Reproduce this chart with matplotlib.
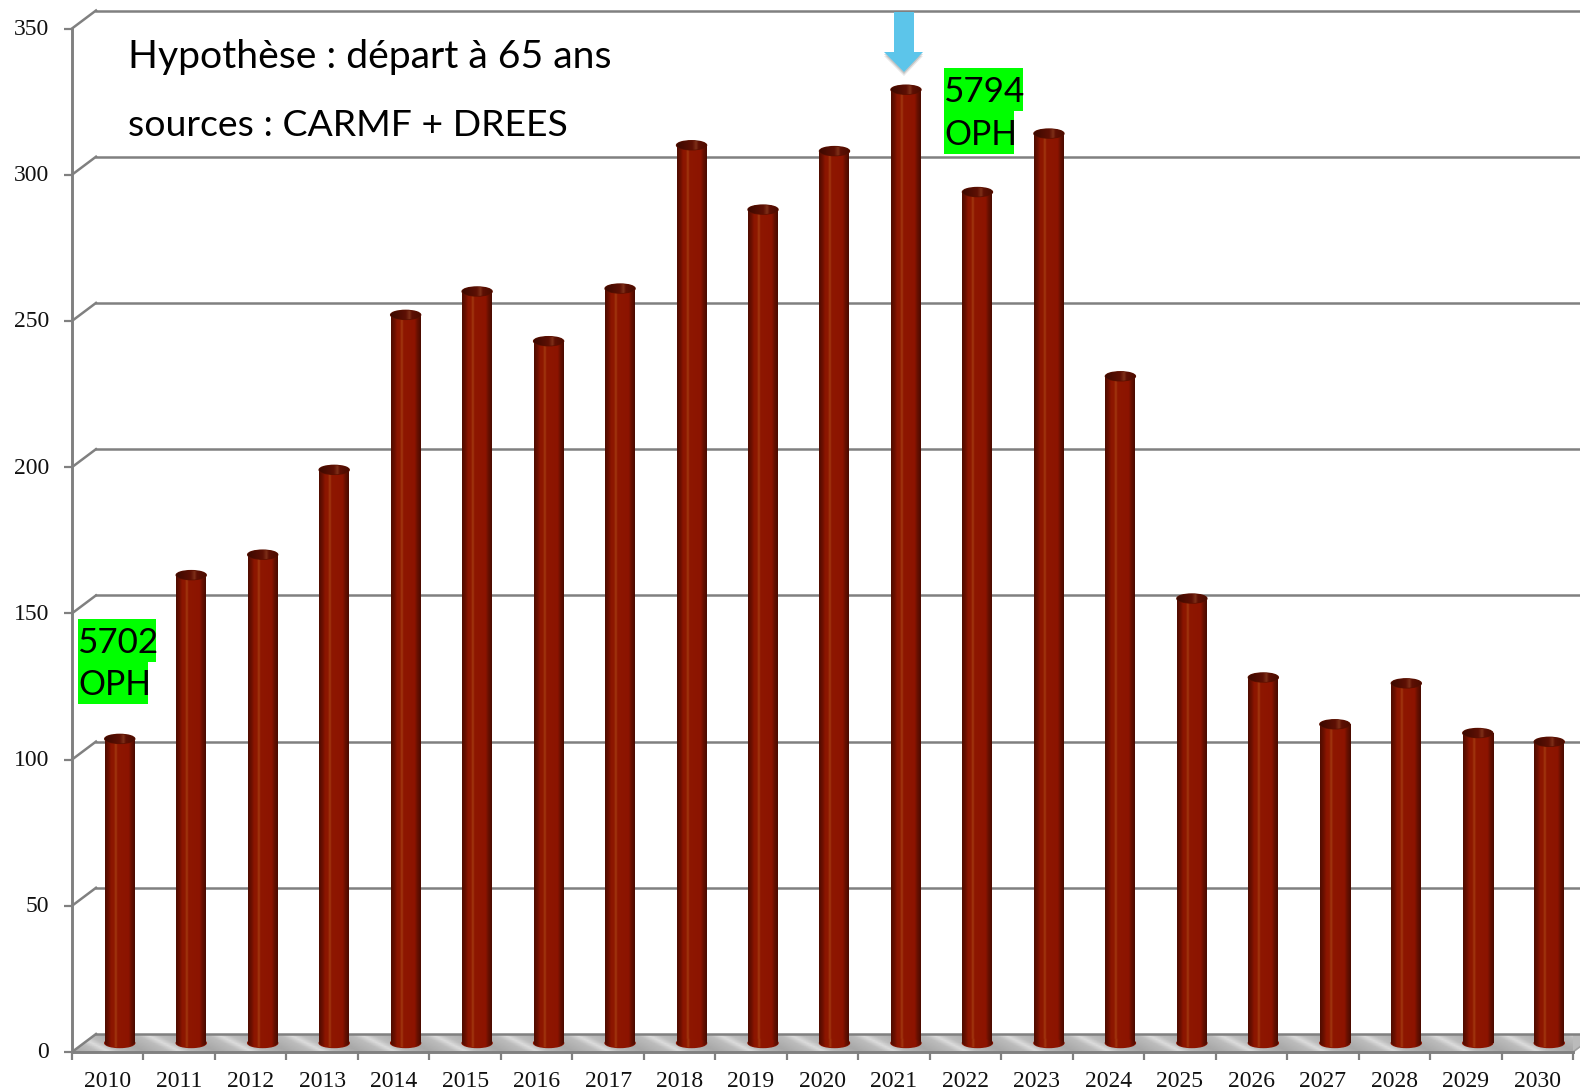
import numpy as np
import matplotlib
matplotlib.use("Agg")
import matplotlib.pyplot as plt
from matplotlib.colors import LinearSegmentedColormap
from matplotlib.patches import Ellipse, Polygon, Rectangle
from matplotlib.transforms import Affine2D

# Values
years = [str(y) for y in range(2010, 2031)]
departures = [104, 160, 167, 196, 249, 257, 240, 258, 307, 285, 305, 326,
              291, 311, 228, 152, 125, 109, 123, 106, 103]
y_ticks = [0, 50, 100, 150, 200, 250, 300, 350]

W, H = 1580, 1091
GREY = "#808080"
GREEN = "#00ff00"

fig = plt.figure(figsize=(W / 100, H / 100), dpi=100)
ax = fig.add_axes([72 / W, (H - 1052) / H, 1501 / W, 1023.5 / H])
ax.set_xlim(0, 21)
ax.set_ylim(0, 350)

# depth of the fake 3d box, in data units
dx = 24 / (1501 / 21)
dy = 18 / (1023.5 / 350)
px_y = 350 / 1023.5

bar_cmap = LinearSegmentedColormap.from_list("bar", [
    (0.0, "#4f0c00"), (0.12, "#6e1000"), (0.2, "#8c1500"), (0.3, "#8e1800"),
    (0.36, "#a33a10"), (0.42, "#8e1700"), (0.8, "#8c1400"), (0.88, "#6a1000"),
    (1.0, "#4a0b00")])
top_cmap = LinearSegmentedColormap.from_list("top", [
    (0.0, "#3c0900"), (0.5, "#5e1004"), (0.62, "#7e3018"), (0.7, "#5e1004"),
    (1.0, "#4a0c00")])
floor_cmap = LinearSegmentedColormap.from_list("floor", [
    (0.0, "#a8a8a8"), (0.35, "#bcbcbc"), (0.5, "#dcdcdc"), (0.65, "#bcbcbc"),
    (1.0, "#a8a8a8")])
grad = np.linspace(0, 1, 64).reshape(1, -1)


def shaded(artist, cmap, extent, z):
    im = ax.imshow(grad, cmap=cmap, extent=extent, aspect="auto", zorder=z,
                   vmin=0, vmax=1, interpolation="bilinear")
    im.set_clip_path(artist)
    return im


# back wall lines
for v in y_ticks[1:]:
    ax.plot([0, dx], [v, v + dy], color=GREY, lw=1.8, clip_on=False, zorder=1)
    ax.plot([dx, 22], [v + dy, v + dy], color=GREY, lw=1.8, clip_on=False, zorder=1)

# floor
floor = Polygon([(0, 0), (21, 0), (21 + dx, dy), (dx, dy)], closed=True,
                facecolor="#bbbbbb", edgecolor="none", clip_on=False, zorder=1.5)
ax.add_patch(floor)
yy, xx = np.mgrid[0:12, 0:1600]
floor_grad = ((xx / 1600 * 22 * 1.0 + yy / 12 * 0.5) % 1.0)
im = ax.imshow(floor_grad, cmap=floor_cmap, extent=(0, 22, 0, dy), aspect="auto",
               zorder=1.6, vmin=0, vmax=1, origin="lower")
im.set_clip_path(floor)
ax.plot([dx, 22], [dy, dy], color=GREY, lw=1.8, clip_on=False, zorder=1.7)
ax.plot([21, 21 + dx], [0, dy], color="#a0a0a0", lw=1.2, clip_on=False, zorder=1.7)
ax.plot([0, dx], [0, dy], color=GREY, lw=1.8, clip_on=False, zorder=1.7)

# bars as cylinders
bar_w = 30 / (1501 / 21)
ell_h = 9 * px_y
base = dy / 2
centres = np.arange(len(years)) + 0.5
for i, (c, v) in enumerate(zip(centres + dx / 2, departures)):
    z = 3 + i * 0.01
    rect = ax.bar(c, v, width=bar_w, bottom=base, color="#8c1400", zorder=z,
                  clip_on=False)[0]
    low = Ellipse((c, base), bar_w, ell_h, color="#8c1400", zorder=z, clip_on=False)
    ax.add_patch(low)
    x0, x1 = c - bar_w / 2, c + bar_w / 2
    shaded(rect, bar_cmap, (x0, x1, base, base + v), z + 0.001)
    shaded(low, bar_cmap, (x0, x1, base - ell_h, base + ell_h), z + 0.001)
    cap = Ellipse((c, base + v), bar_w, ell_h, color="#5a1000", zorder=z + 0.002,
                  clip_on=False)
    ax.add_patch(cap)
    shaded(cap, top_cmap, (x0, x1, base + v - ell_h, base + v + ell_h), z + 0.003)

ax.set_xlim(0, 21)
ax.set_ylim(0, 350)

# axes
for side in ["top", "right"]:
    ax.spines[side].set_visible(False)
for side in ["left", "bottom"]:
    ax.spines[side].set_color(GREY)
    ax.spines[side].set_linewidth(2.1)
    ax.spines[side].set_zorder(2)
ax.set_xticks(np.arange(22))
ax.set_xticklabels([])
ax.set_xticks(centres, years, minor=True)
ax.set_yticks(y_ticks)
ax.tick_params(axis="both", which="major", color=GREY, width=1.6, length=5.5)
ax.tick_params(axis="x", which="minor", length=0, pad=14)
ax.tick_params(axis="y", which="major", pad=11)
for lab in ax.get_xticklabels(minor=True) + ax.get_yticklabels():
    lab.set_family("Liberation Serif")
    lab.set_fontsize(17)
    lab.set_color("#111111")
for lab in ax.get_yticklabels():
    lab.set_transform(lab.get_transform() + Affine2D().translate(0, 1.5))


def px(x, y):
    return x / W, 1 - y / H


def label_text(x, y, s, size):
    fig.text(*px(x, y), s, family="Lato", fontsize=size, color="black",
             va="center", ha="left", zorder=11)


def green_box(x0, y0, x1, y1):
    fig.add_artist(Rectangle(px(x0, y1), (x1 - x0) / W, (y1 - y0) / H, facecolor=GREEN,
                             edgecolor="none", transform=fig.transFigure, zorder=10))


label_text(128, 57, "Hypothèse : départ à 65 ans", 28.2)
label_text(128, 126, "sources : CARMF + DREES", 26.9)

green_box(78, 619, 156, 662)
green_box(78, 662, 148, 704)
label_text(78, 643, "5702", 25.2)
label_text(78, 685, "OPH", 24.2)

green_box(944, 68, 1023, 111)
green_box(944, 111, 1014, 154)
label_text(944, 92, "5794", 25.2)
label_text(944, 135, "OPH", 24.2)


# blue arrow above the 2021 bar
def arrow(off, color, alpha, z):
    pts = [(894, 12), (914, 12), (914, 52), (923, 52), (904, 72), (884, 52), (894, 52)]
    fig.add_artist(Polygon([px(x + off[0], y + off[1]) for x, y in pts], closed=True,
                           facecolor=color, edgecolor="none", alpha=alpha,
                           transform=fig.transFigure, zorder=z))


arrow((0, 4), "#888888", 0.2, 8)
arrow((0, 2), "#777777", 0.3, 8.1)
arrow((0, 0), "#5cc5ea", 1, 9)

fig.savefig("out.png", dpi=100, facecolor="white")
